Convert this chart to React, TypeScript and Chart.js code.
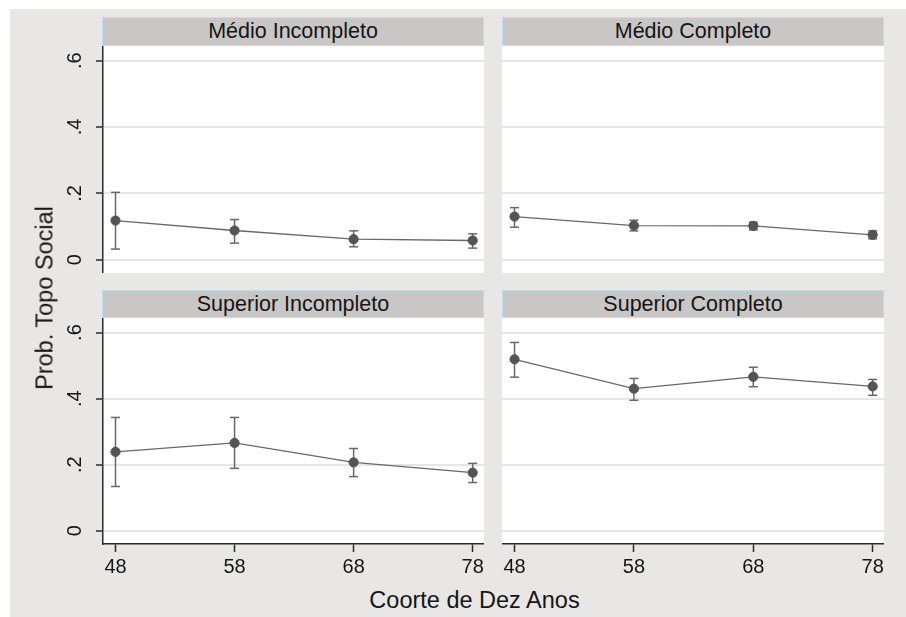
import React, { useEffect, useRef } from 'react';
import { Chart, registerables } from 'chart.js';
Chart.register(...registerables);

// ---- data ----
const cohorts = [48, 58, 68, 78];
const yTickValues = [0, 0.2, 0.4, 0.6];
const panelTitles = ['Médio Incompleto', 'Médio Completo', 'Superior Incompleto', 'Superior Completo'];
const xAxisTitle = 'Coorte de Dez Anos';
const yAxisTitle = 'Prob. Topo Social';

const medioIncEst = [0.118, 0.088, 0.062, 0.058];
const medioIncLo = [0.032, 0.050, 0.039, 0.035];
const medioIncHi = [0.203, 0.121, 0.087, 0.078];

const medioCompEst = [0.130, 0.103, 0.102, 0.075];
const medioCompLo = [0.098, 0.087, 0.090, 0.063];
const medioCompHi = [0.157, 0.119, 0.113, 0.087];

const supIncEst = [0.239, 0.266, 0.207, 0.176];
const supIncLo = [0.134, 0.189, 0.164, 0.146];
const supIncHi = [0.343, 0.343, 0.249, 0.204];

const supCompEst = [0.519, 0.430, 0.466, 0.437];
const supCompLo = [0.465, 0.395, 0.436, 0.410];
const supCompHi = [0.570, 0.461, 0.495, 0.458];

// ---- style ----
const FONT = '"Liberation Sans", Arial, Helvetica, sans-serif';
const BG = '#e8e7e6';
const STRIP = '#c8c7c6';
const STRIP_BORDER = '#bfe0ea';
const GRID = '#e6e6e6';
const AXIS = '#2a2a2a';
const LINE = '#686868';
const MARK = '#545454';
const TEXT = '#151515';
const X_MIN = 46.95;
const X_MAX = 78.95;
const Y_MIN = -0.04;
const Y_MAX = 0.644;

const bgPlugin = {
  id: 'plotBg',
  beforeDraw(chart: any) {
    const { ctx, chartArea } = chart;
    ctx.save();
    ctx.fillStyle = '#ffffff';
    ctx.fillRect(chartArea.left, chartArea.top, chartArea.right - chartArea.left, chartArea.bottom - chartArea.top);
    ctx.restore();
  },
};

type PanelProps = {
  est: number[];
  lo: number[];
  hi: number[];
  showX: boolean;
  showY: boolean;
  left: number;
  top: number;
  width: number;
  height: number;
};

const Y_W = 50;
const X_H = 40;

function Panel(p: PanelProps) {
  const ref = useRef<HTMLCanvasElement>(null);
  useEffect(() => {
    if (!ref.current) return;
    const main = cohorts.map((x, i) => ({ x, y: p.est[i] }));
    const whiskers: any[] = [];
    const caps: any[] = [];
    cohorts.forEach((x, i) => {
      whiskers.push({ x, y: p.lo[i] }, { x, y: p.hi[i] }, { x, y: null });
      caps.push({ x, y: p.lo[i] }, { x, y: p.hi[i] });
    });
    const chart = new Chart(ref.current, {
      type: 'line',
      data: {
        datasets: [
          {
            data: main,
            borderColor: LINE,
            borderWidth: 1.3,
            pointRadius: 4.6,
            pointBackgroundColor: MARK,
            pointBorderColor: MARK,
            pointBorderWidth: 1,
            tension: 0,
          },
          {
            data: whiskers,
            borderColor: LINE,
            borderWidth: 1.5,
            pointRadius: 0,
            spanGaps: false,
          },
          {
            data: caps,
            showLine: false,
            pointStyle: 'line',
            pointRadius: 4.5,
            pointBorderColor: LINE,
            pointBorderWidth: 1.5,
            borderColor: LINE,
          },
        ],
      } as any,
      options: {
        animation: false,
        responsive: false,
        events: [],
        layout: { padding: 0, autoPadding: false },
        plugins: { legend: { display: false }, tooltip: { enabled: false } },
        scales: {
          x: {
            type: 'linear',
            min: X_MIN,
            max: X_MAX,
            display: p.showX,
            afterBuildTicks: (s: any) => {
              s.ticks = cohorts.map((v) => ({ value: v }));
            },
            afterFit: (s: any) => {
              s.height = p.showX ? X_H : 0;
              s.paddingLeft = 0;
              s.paddingRight = 0;
            },
            grid: {
              drawOnChartArea: false,
              drawTicks: true,
              tickLength: 8,
              tickColor: AXIS,
              tickWidth: 1.5,
            },
            border: { display: true, color: AXIS, width: 1.5 },
            ticks: {
              font: { family: FONT, size: 20 },
              color: TEXT,
              padding: 3,
              maxRotation: 0,
              autoSkip: false,
              callback: (v: any) => String(v),
            },
          },
          y: {
            type: 'linear',
            min: Y_MIN,
            max: Y_MAX,
            afterBuildTicks: (s: any) => {
              s.ticks = yTickValues.map((v) => ({ value: v }));
            },
            afterFit: (s: any) => {
              s.width = p.showY ? Y_W : 0;
              s.paddingTop = 0;
              s.paddingBottom = 0;
            },
            grid: {
              color: GRID,
              lineWidth: 2,
              drawTicks: p.showY,
              tickLength: 7,
              tickColor: AXIS,
              tickWidth: 1.5,
            },
            border: { display: p.showY, color: AXIS, width: 1.5 },
            ticks: {
              display: p.showY,
              font: { family: FONT, size: 20 },
              color: TEXT,
              minRotation: 90,
              maxRotation: 90,
              crossAlign: 'center',
              padding: 12,
              callback: (v: any) => (v === 0 ? '0' : String(v).replace(/^0/, '')),
            },
          },
        },
      } as any,
      plugins: [bgPlugin],
    });
    return () => chart.destroy();
  }, []);
  const cl = p.left - (p.showY ? Y_W : 0);
  const cw = p.width + (p.showY ? Y_W : 0);
  const ch = p.height + (p.showX ? X_H : 0);
  return (
    <canvas
      ref={ref}
      width={cw}
      height={ch}
      style={{ position: 'absolute', left: cl, top: p.top, width: cw, height: ch }}
    />
  );
}

function Strip({ title, left, top, width, height }: { title: string; left: number; top: number; width: number; height: number }) {
  return (
    <div
      style={{
        position: 'absolute',
        left,
        top,
        width,
        height,
        boxSizing: 'border-box',
        background: STRIP,
        border: `1px solid ${STRIP_BORDER}`,
        display: 'flex',
        alignItems: 'center',
        justifyContent: 'center',
        fontFamily: FONT,
        fontSize: 21.5,
        color: TEXT,
        whiteSpace: 'nowrap',
      }}
    >
      {title}
    </div>
  );
}

export default function App() {
  return (
    <div style={{ position: 'absolute', left: 0, top: 0, width: 906, height: 617, overflow: 'hidden' }}>
      <div style={{ position: 'absolute', left: 10, top: 9, width: 896, height: 608, background: BG }} />
      <Strip title={panelTitles[0]} left={102} top={17} width={382} height={29} />
      <Strip title={panelTitles[1]} left={502} top={17} width={382} height={29} />
      <Strip title={panelTitles[2]} left={102} top={290} width={382} height={28} />
      <Strip title={panelTitles[3]} left={502} top={290} width={382} height={28} />
      <Panel est={medioIncEst} lo={medioIncLo} hi={medioIncHi} showX={false} showY={true} left={103} top={46} width={381} height={227} />
      <Panel est={medioCompEst} lo={medioCompLo} hi={medioCompHi} showX={false} showY={false} left={502} top={46} width={382} height={227} />
      <Panel est={supIncEst} lo={supIncLo} hi={supIncHi} showX={true} showY={true} left={103} top={318} width={381} height={226} />
      <Panel est={supCompEst} lo={supCompLo} hi={supCompHi} showX={true} showY={false} left={502} top={318} width={382} height={226} />
      <div
        style={{
          position: 'absolute',
          left: 474.5,
          top: 600,
          transform: 'translate(-50%, -50%)',
          fontFamily: FONT,
          fontSize: 23.5,
          color: TEXT,
          whiteSpace: 'nowrap',
        }}
      >
        {xAxisTitle}
      </div>
      <div
        style={{
          position: 'absolute',
          left: 45,
          top: 298,
          transform: 'translate(-50%, -50%) rotate(-90deg)',
          fontFamily: FONT,
          fontSize: 23.5,
          color: TEXT,
          whiteSpace: 'nowrap',
        }}
      >
        {yAxisTitle}
      </div>
    </div>
  );
}
